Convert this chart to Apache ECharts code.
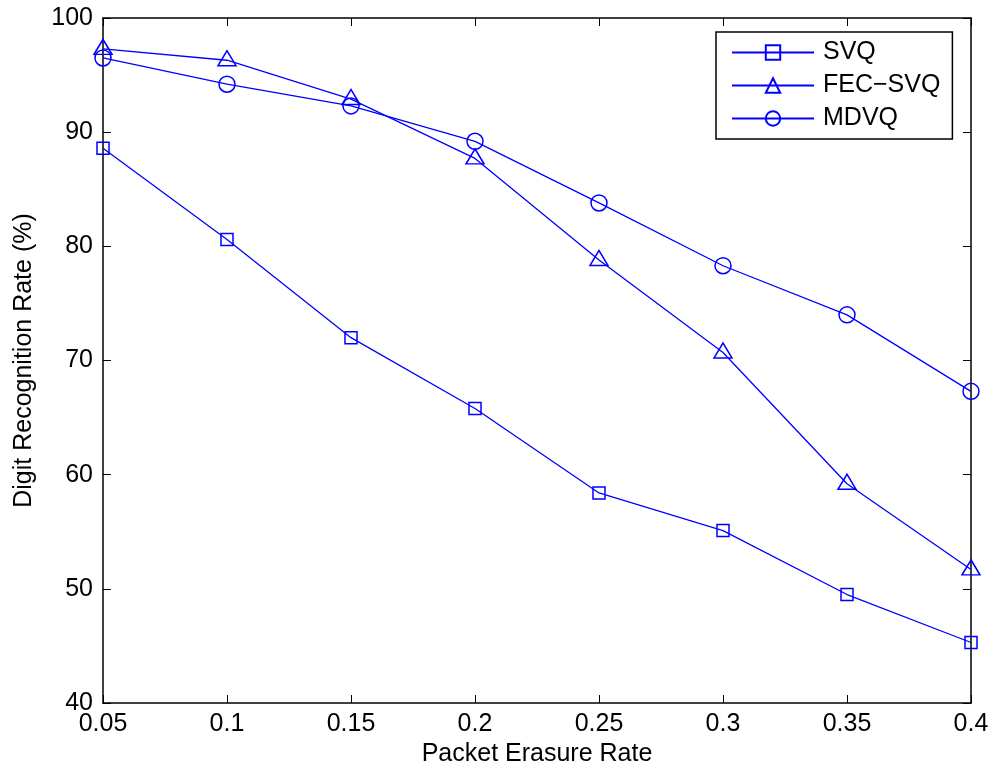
<!DOCTYPE html>
<html>
<head>
<meta charset="utf-8">
<script src="https://cdn.jsdelivr.net/npm/echarts@6/dist/echarts.min.js"></script>
<style>
  html, body { margin: 0; padding: 0; background: #fff; }
  #chart { width: 994px; height: 773px; }
</style>
</head>
<body>
<div id="chart"></div>
<script>
'use strict';
// x: packet erasure rate
const erasureRates = [0.05, 0.1, 0.15, 0.2, 0.25, 0.3, 0.35, 0.4];
// y: digit recognition rate (%)
const svqRates = [88.6, 80.6, 72.0, 65.8, 58.4, 55.1, 49.5, 45.3];
const fecSvqRates = [97.3, 96.3, 92.9, 87.7, 78.8, 70.7, 59.2, 51.7];
const mdvqRates = [96.5, 94.2, 92.3, 89.2, 83.8, 78.3, 74.0, 67.3];
const seriesNames = ['SVQ', 'FEC\u2212SVQ', 'MDVQ'];

const FONT = "'Liberation Sans', Arial, sans-serif";
const BLUE = '#0000ff';
const FS = 25;

const pairs = (ys) => erasureRates.map((x, i) => [x, ys[i]]);

const makeSeries = (name, ys, symbol, size, offset) => ({
    name: name,
    type: 'line',
    data: pairs(ys),
    symbol: symbol,
    symbolSize: size,
    symbolOffset: offset,
    showAllSymbol: true,
    animation: false,
    lineStyle: { color: BLUE, width: 1.3 },
    itemStyle: { color: 'rgba(0,0,0,0)', borderColor: BLUE, borderWidth: 1.5 },
    emphasis: { disabled: true }
});

const hiddenAxisBits = {
    axisLabel: { show: false },
    splitLine: { show: false },
    axisLine: { lineStyle: { color: '#000', width: 1.5 } },
    axisTick: { inside: true, length: 8, lineStyle: { color: '#000', width: 1 } }
};

const chart = echarts.init(document.getElementById('chart'));
chart.setOption({
    backgroundColor: '#fff',
    textStyle: { fontFamily: FONT },
    grid: { left: 103, right: 23, top: 18, bottom: 70 },
    legend: {
        orient: 'vertical',
        left: 716,
        top: 32,
        data: seriesNames,
        itemWidth: 82,
        itemHeight: 18,
        itemGap: 8,
        padding: [8, 12, 8, 15],
        backgroundColor: '#fff',
        borderColor: '#000',
        borderWidth: 1.5,
        borderRadius: 0,
        textStyle: { fontSize: FS, color: '#000', fontFamily: FONT, padding: [0, 0, 0, 4] }
    },
    xAxis: [{
        type: 'value',
        min: 0.05,
        max: 0.4,
        interval: 0.05,
        name: 'Packet Erasure Rate',
        nameLocation: 'middle',
        nameGap: 39,
        nameTextStyle: { fontSize: FS, color: '#000', fontFamily: FONT },
        axisLabel: { fontSize: FS, color: '#000', margin: 9, fontFamily: FONT },
        splitLine: { show: false },
        axisLine: { onZero: false, lineStyle: { color: '#000', width: 1.5 } },
        axisTick: { inside: true, length: 8, lineStyle: { color: '#000', width: 1 } }
    }, Object.assign({
        type: 'value',
        position: 'top',
        min: 0.05,
        max: 0.4,
        interval: 0.05
    }, hiddenAxisBits)],
    yAxis: [{
        type: 'value',
        min: 40,
        max: 100,
        interval: 10,
        name: 'Digit Recognition Rate (%)',
        nameLocation: 'middle',
        nameGap: 66,
        nameTextStyle: { fontSize: FS, color: '#000', fontFamily: FONT },
        axisLabel: { fontSize: FS, color: '#000', margin: 10, fontFamily: FONT },
        splitLine: { show: false },
        axisLine: { show: true, onZero: false, lineStyle: { color: '#000', width: 1.5 } },
        axisTick: { show: true, inside: true, length: 8, lineStyle: { color: '#000', width: 1 } }
    }, Object.assign({
        type: 'value',
        position: 'right',
        min: 40,
        max: 100,
        interval: 10
    }, hiddenAxisBits, { axisLine: { show: true, lineStyle: { color: '#000', width: 1.5 } } })],
    series: [
        makeSeries(seriesNames[0], svqRates, 'rect', 12, [0, 0]),
        makeSeries(seriesNames[1], fecSvqRates, 'triangle', [18, 15], [0, -2]),
        makeSeries(seriesNames[2], mdvqRates, 'circle', 16, [0, 0])
    ]
});
</script>
</body>
</html>
